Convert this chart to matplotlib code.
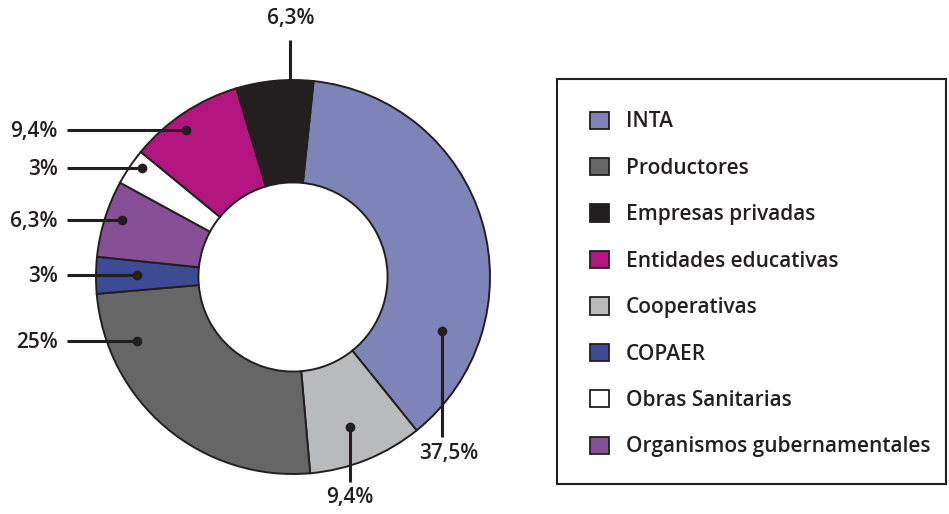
import matplotlib.pyplot as plt
from matplotlib.patches import Rectangle, Patch

# data, in the order the wedges go round (clockwise from the top)
categorias = ['INTA', 'Cooperativas', 'Productores', 'COPAER',
              'Organismos gubernamentales', 'Obras Sanitarias',
              'Entidades educativas', 'Empresas privadas']
valores = [37.5, 9.4, 25, 3, 6.3, 3, 9.4, 6.3]
etiquetas = ['37,5%', '9,4%', '25%', '3%', '6,3%', '3%', '9,4%', '6,3%']
colores = ['#7f84b8', '#b9babc', '#666667', '#3d4b94',
           '#874f95', '#ffffff', '#b3157f', '#231f20']
orden_leyenda = ['INTA', 'Productores', 'Empresas privadas', 'Entidades educativas',
                 'Cooperativas', 'COPAER', 'Obras Sanitarias',
                 'Organismos gubernamentales']

plt.rcParams['font.family'] = ['Open Sans', 'DejaVu Sans']
oscuro = '#231f20'
peso = 'semibold'

W, H = 949, 514
cx, cy, R = 293, 277, 197   # pie centre / radius in pixels

fig = plt.figure(figsize=(W / 100, H / 100), dpi=100)
ax = fig.add_axes([0, 0, 1, 1])

wedges, _ = ax.pie(valores, colors=colores, startangle=84, counterclock=False,
                   radius=1, wedgeprops=dict(width=0.52, edgecolor=oscuro, linewidth=1.4))
ax.set_xlim(-cx / R, (W - cx) / R)
ax.set_ylim(-(H - cy) / R, cy / R)
ax.set_aspect('auto')
ax.axis('off')


def px(x, y):
    return (x - cx) / R, (cy - y) / R


fs = 15
# leader lines on the left: (label index, dot pixel position)
izq = [(6, 186, 130), (5, 142, 168), (4, 122, 220), (3, 137, 275), (2, 137, 341)]
for i, dx, dy in izq:
    x0, y0 = px(67, dy)
    x1, y1 = px(dx, dy)
    ax.plot([x0, x1], [y0, y1], color=oscuro, lw=2.2, solid_capstyle='butt')
    ax.plot(x1, y1, 'o', color=oscuro, ms=6)
    tx, ty = px(58, dy + 1)
    ax.text(tx, ty, etiquetas[i], ha='right', va='center', fontsize=fs,
            color=oscuro, fontweight=peso)

# leader lines below / above
aba = [(0, 442, 331, 437, 449, 453), (1, 350, 427, 482, 350, 497)]
for i, dx, dy, fin, tx_, ty_ in aba:
    x1, y1 = px(dx, dy)
    _, y2 = px(dx, fin)
    ax.plot([x1, x1], [y1, y2], color=oscuro, lw=2.2, solid_capstyle='butt')
    ax.plot(x1, y1, 'o', color=oscuro, ms=6)
    tx, ty = px(tx_, ty_)
    ax.text(tx, ty, etiquetas[i], ha='center', va='center', fontsize=fs,
            color=oscuro, fontweight=peso)

x1, y1 = px(290, 80)
_, y2 = px(290, 40)
ax.plot([x1, x1], [y1, y2], color=oscuro, lw=2.2, solid_capstyle='butt')
tx, ty = px(291, 18)
ax.text(tx, ty, etiquetas[7], ha='center', va='center', fontsize=fs,
        color=oscuro, fontweight=peso)

# legend box
fig.patches.append(Rectangle((557 / W, 1 - 484 / H), (946 - 557) / W, (484 - 79) / H,
                             transform=fig.transFigure, fill=False,
                             edgecolor=oscuro, linewidth=1.5))
handles = [wedges[categorias.index(c)] for c in orden_leyenda]
handles = [Patch(facecolor=h.get_facecolor(), edgecolor=oscuro, linewidth=1.3) for h in handles]
leg = fig.legend(handles, orden_leyenda, loc='upper left',
                 bbox_to_anchor=(580 / W, 1 - 101 / H), frameon=False,
                 fontsize=fs, handlelength=0.9, handleheight=0.9,
                 handletextpad=0.8, labelspacing=1.22, borderpad=0)
for t in leg.get_texts():
    t.set_color(oscuro)
    t.set_fontweight(peso)

fig.savefig('out.png', dpi=100)
